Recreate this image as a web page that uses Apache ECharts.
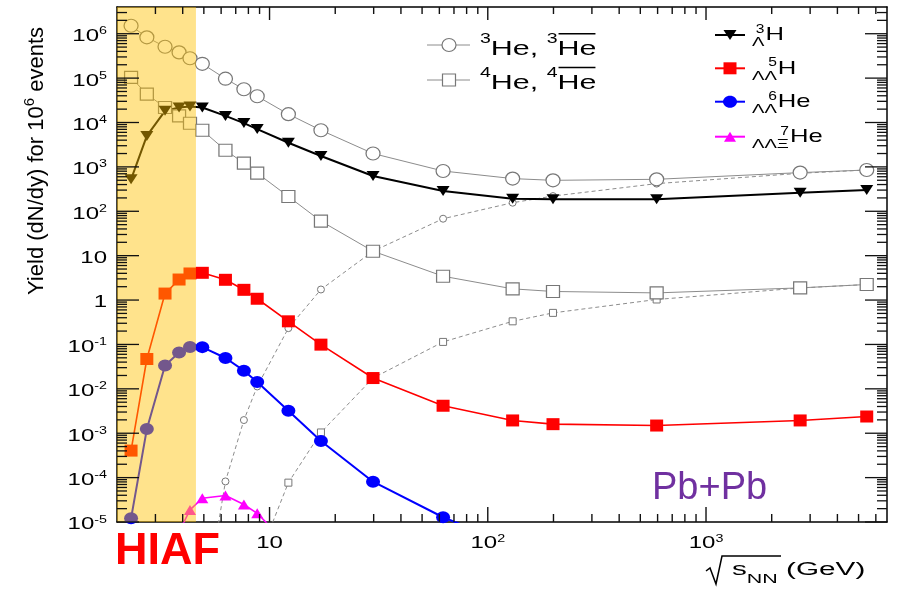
<!DOCTYPE html>
<html>
<head>
<meta charset="utf-8">
<script src="https://cdn.jsdelivr.net/npm/echarts@6.0.0/dist/echarts.min.js"></script>
<style>
html,body{margin:0;padding:0;background:#fff;}
#chart{width:897px;height:591px;}
</style>
</head>
<body>
<div id="chart"></div>
<script>
// ---------------- data ----------------
const energies = [2.32, 2.74, 3.32, 3.85, 4.32, 4.92, 6.28, 7.63, 8.78, 12.2, 17.2, 29.8, 62.4, 130, 199, 594, 2700, 5450];
const he3     = [1.51e6, 8.3e5, 5.1e5, 3.8e5, 2.8e5, 2.1e5, 9.7e4, 5.6e4, 3.9e4, 1.54e4, 6.7e3, 2.0e3, 808, 545, 498, 525, 743, 851];
const he4     = [1.04e5, 4.35e4, 2.18e4, 1.41e4, 9.6e3, 6.7e3, 2.37e3, 1.22e3, 725, 215, 60, 12.6, 3.44, 1.79, 1.56, 1.45, 1.88, 2.24];
const hyperH3 = [525, 4.99e3, 1.83e4, 2.18e4, 2.30e4, 2.18e4, 1.41e4, 9.7e3, 7.1e3, 3.5e3, 1.76e3, 623, 286, 192, 186, 186, 263, 301];
const antiHe3 = [null, null, null, null, null, 6e-8, 8.2e-5, 1.98e-3, 1.13e-2, 0.233, 1.73, 12.6, 68, 156, 220, 420, 717, 851];
const antiHe4 = [null, null, null, null, null, null, null, null, 1.3e-6, 7.7e-5, 1.04e-3, 1.75e-2, 0.114, 0.332, 0.514, 1.03, 1.87, 2.24];
const llH5    = [4.06e-4, 4.7e-2, 1.40, 2.90, 3.97, 4.11, 2.86, 1.70, 1.07, 0.332, 0.099, 1.75e-2, 4.16e-3, 1.94e-3, 1.60e-3, 1.49e-3, 1.94e-3, 2.38e-3];
const llHe6   = [1.21e-5, 1.24e-3, 3.37e-2, 6.6e-2, 8.8e-2, 8.7e-2, 4.95e-2, 2.57e-2, 1.42e-2, 3.21e-3, 6.7e-4, 8.1e-5, 1.28e-5, 3e-6, null, null, null, null];
const llxHe7  = [null, null, null, 6e-6, 1.87e-5, 3.43e-5, 3.96e-5, 2.48e-5, 1.57e-5, 3e-6, null, null, null, null, null, null, null, null];

const xMin = 2, xMax = 6750, yMin = 1e-5, yMax = 4e6;
const hiafRange = [2, 4.6];

const xTickValues = [10, 100, 1000];
const xTickBase   = ['10', '10', '10'];
const xTickExp    = ['', '2', '3'];
const yTickValues = [1e-5, 1e-4, 1e-3, 1e-2, 1e-1, 1, 10, 100, 1e3, 1e4, 1e5, 1e6];
const yTickBase   = ['10', '10', '10', '10', '10', '1', '10', '10', '10', '10', '10', '10'];
const yTickExp    = ['-5', '-4', '-3', '-2', '-1', '', '', '2', '3', '4', '5', '6'];
const xMinorTicks = [3,4,5,6,7,8,9, 20,30,40,50,60,70,80,90, 200,300,400,500,600,700,800,900, 2000,3000,4000,5000,6000];
const yMinorTicks = [];
for (let n = -5; n <= 6; n++) for (let k = 2; k <= 9; k++) { const v = k * Math.pow(10, n); if (v < yMax) yMinorTicks.push(v); }

// ---------------- helpers ----------------
const FONT = 'Liberation Sans';
const mctx = document.createElement('canvas').getContext('2d');
function tw(t, f, w) { mctx.font = (w || 'normal') + ' ' + f + 'px "' + FONT + '"'; return mctx.measureText(t).width; }
function txt(t, x, y, f, sx, color, weight) {
  return { type: 'text', x: x, y: y, scaleX: sx, silent: true,
    style: { text: t, fontSize: f, fontFamily: FONT, fontWeight: weight || 'normal', fill: color,
      textAlign: 'left', textVerticalAlign: 'middle', align: 'left', verticalAlign: 'middle' } };
}
function seq(segs, x0, yc, sx, color, align) {
  let W = 0;
  segs.forEach(s => { s.w = tw(s.t, s.f, s.weight) * (s.sx || sx); W += s.w; });
  let x = align === 'right' ? x0 - W : (align === 'center' ? x0 - W / 2 : x0);
  const els = [];
  segs.forEach(s => { s.x = x; els.push(txt(s.t, x, yc + (s.dy || 0), s.f, s.sx || sx, color, s.weight)); x += s.w; });
  return { els: els, segs: segs, W: W };
}
function pts(arr) { const o = []; arr.forEach((v, i) => { if (v != null) o.push([energies[i], v]); }); return o; }

const GRAY_L = '#8c8c8c', GRAY_M = '#777777', TICK = '#111111';

// ---------------- series ----------------
function lineSeries(name, arr, o) {
  return Object.assign({ name: name, type: 'line', data: pts(arr), clip: true, silent: true, z: 2,
    showAllSymbol: true }, o);
}
const series = [
  lineSeries('anti3He', antiHe3, { symbol: 'circle', symbolSize: 7,
    itemStyle: { color: '#fff', borderColor: GRAY_M, borderWidth: 1 },
    lineStyle: { color: GRAY_L, width: 1, type: [4, 3] } }),
  lineSeries('anti4He', antiHe4, { symbol: 'rect', symbolSize: 7,
    itemStyle: { color: '#fff', borderColor: GRAY_M, borderWidth: 1 },
    lineStyle: { color: GRAY_L, width: 1, type: [4, 3] } }),
  lineSeries('3He', he3, { symbol: 'circle', symbolSize: [14, 13],
    itemStyle: { color: '#fff', borderColor: GRAY_M, borderWidth: 1.2 },
    lineStyle: { color: GRAY_L, width: 1 } }),
  lineSeries('4He', he4, { symbol: 'rect', symbolSize: [13, 12],
    itemStyle: { color: '#fff', borderColor: GRAY_M, borderWidth: 1.2 },
    lineStyle: { color: GRAY_L, width: 1 } }),
  lineSeries('H3L', hyperH3, { symbol: 'triangle', symbolRotate: 180, symbolSize: [13, 10],
    itemStyle: { color: '#000' }, lineStyle: { color: '#000', width: 2 } }),
  lineSeries('H5LL', llH5, { symbol: 'rect', symbolSize: [13, 12],
    itemStyle: { color: '#ff0000' }, lineStyle: { color: '#ff0000', width: 1.6 } }),
  lineSeries('He6LL', llHe6, { symbol: 'circle', symbolSize: [14, 12],
    itemStyle: { color: '#0000ff' }, lineStyle: { color: '#0000ff', width: 2 } }),
  lineSeries('He7LLX', llxHe7, { symbol: 'triangle', symbolSize: [12, 10],
    itemStyle: { color: '#ff00ff' }, lineStyle: { color: '#ff00ff', width: 1.6 } }),
  { name: 'HIAF', type: 'line', data: [], silent: true, z: 20,
    markArea: { silent: true, z: 20, itemStyle: { color: 'rgba(255,192,0,0.45)' },
      data: [[{ xAxis: hiafRange[0] }, { xAxis: hiafRange[1] }]] } },
  // y axis: ticks (left & right) and labels
  { type: 'custom', name: 'yAxisMarks', coordinateSystem: 'cartesian2d', z: 30, clip: false,
    data: yTickValues.map((v, i) => [xMin, v, i]).concat(yMinorTicks.map(v => [xMin, v, -1])),
    encode: { x: 0, y: 1 },
    renderItem: function (params, api) {
      const i = api.value(2);
      const p = api.coord([xMin, api.value(1)]);
      const r = api.coord([xMax, api.value(1)]);
      const len = i >= 0 ? 22 : 10;
      const children = [
        { type: 'line', shape: { x1: p[0], y1: p[1], x2: p[0] + len, y2: p[1] }, style: { stroke: TICK, lineWidth: 1.3 } },
        { type: 'line', shape: { x1: r[0], y1: r[1], x2: r[0] - len, y2: r[1] }, style: { stroke: TICK, lineWidth: 1.3 } }
      ];
      if (i >= 0) {
        const segs = [{ t: yTickBase[i], f: 16 }];
        if (yTickExp[i]) segs.push({ t: yTickExp[i], f: 11, dy: -5.5, sx: 1.3 });
        seq(segs, p[0] - 10, p[1] + 3, 1.5, '#000', 'right').els.forEach(e => children.push(e));
      }
      return { type: 'group', children: children };
    } },
  // x axis: ticks (bottom & top) and labels
  { type: 'custom', name: 'xAxisMarks', coordinateSystem: 'cartesian2d', z: 30, clip: false,
    data: xTickValues.map((v, i) => [v, yMin, i]).concat(xMinorTicks.map(v => [v, yMin, -1])),
    encode: { x: 0, y: 1 },
    renderItem: function (params, api) {
      const i = api.value(2);
      const b = api.coord([api.value(0), yMin]);
      const t = api.coord([api.value(0), yMax]);
      const lb = i >= 0 ? 15 : 8, lt = i >= 0 ? 13 : 7;
      const children = [
        { type: 'line', shape: { x1: b[0], y1: b[1], x2: b[0], y2: b[1] - lb }, style: { stroke: TICK, lineWidth: 1.4 } },
        { type: 'line', shape: { x1: t[0], y1: t[1], x2: t[0], y2: t[1] + lt }, style: { stroke: TICK, lineWidth: 1.4 } }
      ];
      if (i >= 0) {
        const segs = [{ t: xTickBase[i], f: 16 }];
        if (xTickExp[i]) segs.push({ t: xTickExp[i], f: 11, dy: -5, sx: 1.3 });
        seq(segs, b[0], b[1] + 21.5, 1.5, '#000', 'center').els.forEach(e => children.push(e));
      }
      return { type: 'group', children: children };
    } }
];

// ---------------- graphic (titles, legends, annotations) ----------------
const g = [];
const yt = seq([{ t: 'Yield (dN/dy) for 10', f: 22 }, { t: '6', f: 15, dy: -7 }, { t: ' events', f: 22 }], 0, 0, 1, '#000', 'center');
g.push({ type: 'group', x: 37, y: 161, rotation: Math.PI / 2, children: yt.els });
g.push({ type: 'polyline', silent: true, shape: { points: [[706, 571], [710, 568], [716, 584], [722, 556], [781, 556]] },
  style: { stroke: '#000', lineWidth: 1.5, fill: null } });
seq([{ t: 's', f: 18 }, { t: 'NN', f: 13, dy: 9 }, { t: ' (GeV)', f: 18 }], 732, 570, 1.65, '#000', 'left').els.forEach(e => g.push(e));

function grayRow(yl, yc, mark, A) {
  g.push({ type: 'line', silent: true, shape: { x1: 427, y1: yl, x2: 470, y2: yl }, style: { stroke: GRAY_L, lineWidth: 1 } });
  if (mark === 'circle') g.push({ type: 'ellipse', silent: true, shape: { cx: 449, cy: yl, rx: 7, ry: 6.5 }, style: { fill: '#fff', stroke: GRAY_M, lineWidth: 1.2 } });
  else g.push({ type: 'rect', silent: true, shape: { x: 442.5, y: yl - 6, width: 13, height: 12 }, style: { fill: '#fff', stroke: GRAY_M, lineWidth: 1.2 } });
  const r = seq([{ t: A, f: 15, dy: -10.5, sx: 1.3 }, { t: 'He, ', f: 21 }, { t: A, f: 15, dy: -10.5, sx: 1.3 }, { t: 'He', f: 21 }], 480, yc, 1.45, '#000', 'left');
  r.els.forEach(e => g.push(e));
  const s = r.segs[3];
  g.push({ type: 'line', silent: true, shape: { x1: s.x + 1, y1: yc - 15.5, x2: s.x + s.w - 1, y2: yc - 15.5 }, style: { stroke: '#000', lineWidth: 1.5 } });
}
grayRow(45, 49.2, 'circle', '3');
grayRow(80, 83, 'rect', '4');

function preRow(yc, color, mark, sub, sup, main) {
  g.push({ type: 'line', silent: true, shape: { x1: 715, y1: yc, x2: 745, y2: yc }, style: { stroke: color, lineWidth: 2 } });
  if (mark === 'tdown') g.push({ type: 'polygon', silent: true, shape: { points: [[723.5, yc - 5], [736.5, yc - 5], [730, yc + 5]] }, style: { fill: color } });
  if (mark === 'tup') g.push({ type: 'polygon', silent: true, shape: { points: [[724, yc + 5], [736, yc + 5], [730, yc - 5]] }, style: { fill: color } });
  if (mark === 'rect') g.push({ type: 'rect', silent: true, shape: { x: 723.5, y: yc - 6, width: 13, height: 12 }, style: { fill: color } });
  if (mark === 'circle') g.push({ type: 'ellipse', silent: true, shape: { cx: 730, cy: yc, rx: 7, ry: 6 }, style: { fill: color } });
  const x0 = 752;
  const subW = tw(sub, 12) * 1.55, supW = tw(sup, 12) * 1.3, bw = Math.max(subW, supW);
  g.push(txt(sub, x0 + bw - subW, yc + 8, 12, 1.55, '#000'));
  g.push(txt(sup, x0 + bw - supW, yc - 5.5, 12, 1.3, '#000'));
  g.push(txt(main, x0 + bw + 1, yc, 19, 1.35, '#000'));
}
preRow(35, '#000000', 'tdown', 'Λ', '3', 'H');
preRow(68.3, '#ff0000', 'rect', 'ΛΛ', '5', 'H');
preRow(101.7, '#0000ff', 'circle', 'ΛΛ', '6', 'He');
preRow(136.7, '#ff00ff', 'tup', 'ΛΛΞ', '7', 'He');

g.push(txt('HIAF', 115, 551.5, 45, 1, '#ff0000', 'bold'));
g.push(txt('Pb+Pb', 652, 489, 38, 1, '#7030a0'));

// ---------------- chart ----------------
function axisOpt(type, min, max, position) {
  return { type: type, min: min, max: max, position: position,
    axisTick: { show: false }, axisLabel: { show: false }, splitLine: { show: false },
    axisLine: { show: true, lineStyle: { color: '#000', width: 1.5 } } };
}
const chart = echarts.init(document.getElementById('chart'));
chart.setOption({
  animation: false,
  backgroundColor: '#fff',
  grid: { left: 117, right: 10, top: 7, bottom: 69 },
  xAxis: [axisOpt('log', xMin, xMax, 'bottom'), axisOpt('log', xMin, xMax, 'top')],
  yAxis: [axisOpt('log', yMin, yMax, 'left'), axisOpt('log', yMin, yMax, 'right')],
  series: series,
  graphic: { elements: g }
});
</script>
</body>
</html>
